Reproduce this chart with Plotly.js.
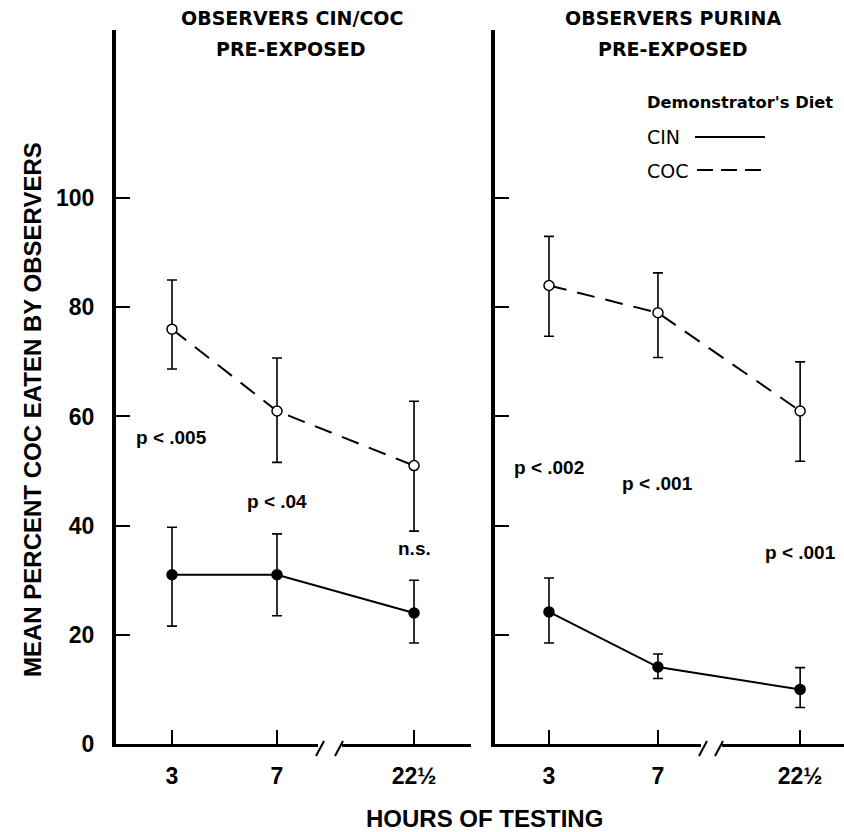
<!DOCTYPE html>
<html>
<head>
<meta charset="utf-8">
<script src="https://cdn.plot.ly/plotly-3.0.1.min.js"></script>
<style>html,body{margin:0;padding:0;background:#fff;}#chart{width:844px;height:832px;}</style>
</head>
<body>
<div id="chart"></div>
<script>
// ---------- DATA ----------
const hours = [3, 7, 22.5];
const tickLabels = ['3', '7', '22½'];

const leftCOC = [76, 61, 51];
const leftCOCErrUp = [9, 9.7, 11.8];
const leftCOCErrDown = [7.3, 9.4, 12];
const leftCIN = [31, 31, 24];
const leftCINErrUp = [8.7, 7.5, 6];
const leftCINErrDown = [9.4, 7.5, 5.5];

const rightCOC = [84, 79, 61];
const rightCOCErrUp = [9, 7.3, 9];
const rightCOCErrDown = [9.3, 8.2, 9.2];
const rightCIN = [24.2, 14.1, 10];
const rightCINErrUp = [6.2, 2.4, 4];
const rightCINErrDown = [5.7, 2.1, 3.3];

const yTicks = [0, 20, 40, 60, 80, 100];
const leftPLabels = ['p < .005', 'p < .04', 'n.s.'];
const rightPLabels = ['p < .002', 'p < .001', 'p < .001'];

// ---------- LAYOUT HELPERS ----------
const W = 844, H = 832;
const fx = p => p / W;
const fy = p => 1 - p / H;
// broken time axis: hours past the break are compressed
const BREAK = 9, COMPRESS = 0.2385;
const bx = h => h <= BREAK ? h : BREAK + (h - BREAK) * COMPRESS;
const xPos = hours.map(bx);

const FONT = 'Liberation Sans, Arial, Helvetica, sans-serif';
const TFONT = 'DejaVu Sans, Liberation Sans, sans-serif';
const leftPY = [56.2, 44.5, 35.9];
const rightPY = [50.7, 47.8, 35.0];

function series(y, up, down, open, xa, ya) {
  return {
    x: xPos, y: y, xaxis: xa, yaxis: ya, type: 'scatter', mode: 'lines+markers',
    line: {color: '#000', width: 2, dash: open ? '18px,11px' : 'solid'},
    marker: {size: 10, color: open ? '#fff' : '#000', line: {color: '#000', width: 1.5}},
    error_y: {type: 'data', symmetric: false, array: up, arrayminus: down, color: '#000', thickness: 1.6, width: 5},
    showlegend: false, hoverinfo: 'skip', cliponaxis: false
  };
}

const traces = [
  series(leftCIN, leftCINErrUp, leftCINErrDown, false, 'x', 'y'),
  series(leftCOC, leftCOCErrUp, leftCOCErrDown, true, 'x', 'y'),
  series(rightCIN, rightCINErrUp, rightCINErrDown, false, 'x2', 'y2'),
  series(rightCOC, rightCOCErrUp, rightCOCErrDown, true, 'x2', 'y2')
];

const xCommon = {
  tickmode: 'array', tickvals: xPos, ticktext: tickLabels,
  ticks: 'inside', ticklen: 14, tickwidth: 2, tickcolor: '#000',
  showline: true, linewidth: 3, linecolor: '#000', showgrid: false, zeroline: false,
  tickfont: {family: FONT, size: 23, color: '#000', weight: 'bold'}, ticklabelstandoff: 9,
  fixedrange: true
};
const yCommon = {
  range: [0, 130.8], tickmode: 'array', tickvals: yTicks,
  ticks: 'inside', ticklen: 14, tickwidth: 2, tickcolor: '#000',
  showline: true, linewidth: 4, linecolor: '#000', showgrid: false, zeroline: false,
  tickfont: {family: FONT, size: 23, color: '#000', weight: 'bold'}, ticklabelstandoff: 13,
  domain: [fy(744), fy(30)], fixedrange: true
};

const ann = [];
function txt(text, xp, yp, size, bold, extra, fam) {
  ann.push(Object.assign({text: text, xref: 'paper', yref: 'paper', x: fx(xp), y: fy(yp),
    xanchor: 'center', yanchor: 'middle', showarrow: false,
    font: {family: fam || FONT, size: size, color: '#000', weight: bold ? 'bold' : 'normal'}}, extra || {}));
}
txt('OBSERVERS CIN/COC', 292, 18, 19, true, null, TFONT);
txt('PRE-EXPOSED', 291, 49, 19, true, null, TFONT);
txt('OBSERVERS PURINA', 673, 18, 19, true, null, TFONT);
txt('PRE-EXPOSED', 673, 49, 19, true, null, TFONT);
txt("Demonstrator's Diet", 645, 103, 16.3, true, {xanchor: 'left'}, TFONT);
txt('CIN', 645, 137, 19, false, {xanchor: 'left'}, TFONT);
txt('COC', 645, 171, 19, false, {xanchor: 'left'}, TFONT);
txt('MEAN PERCENT COC EATEN BY OBSERVERS', 32, 410, 24, true, {textangle: -90});
txt('HOURS OF TESTING', 484, 818, 24, true);

leftPLabels.forEach((t, i) => ann.push({text: t, xref: 'x', yref: 'y', x: xPos[i], y: leftPY[i],
  showarrow: false, font: {family: FONT, size: 19, color: '#000', weight: 'bold'}}));
rightPLabels.forEach((t, i) => ann.push({text: t, xref: 'x2', yref: 'y2', x: xPos[i], y: rightPY[i],
  showarrow: false, font: {family: FONT, size: 19, color: '#000', weight: 'bold'}}));

const shapes = [];
// legend samples
shapes.push({type: 'line', xref: 'paper', yref: 'paper', x0: fx(695), x1: fx(765), y0: fy(137), y1: fy(137), line: {color: '#000', width: 2}});
shapes.push({type: 'line', xref: 'paper', yref: 'paper', x0: fx(697), x1: fx(765), y0: fy(170), y1: fy(170), line: {color: '#000', width: 2, dash: '16px,8px'}});
// axis breaks
[[318, 342, 320, 339], [701, 722, 703, 719]].forEach(b => {
  shapes.push({type: 'rect', xref: 'paper', yref: 'paper', x0: fx(b[0]), x1: fx(b[1]), y0: fy(748), y1: fy(739), fillcolor: '#fff', line: {width: 0}, layer: 'above'});
  [b[2], b[3]].forEach(s => shapes.push({type: 'line', xref: 'paper', yref: 'paper',
    x0: fx(s + 4), y0: fy(741), x1: fx(s - 4), y1: fy(756), line: {color: '#000', width: 2}, layer: 'above'}));
});

const layout = {
  width: W, height: H, margin: {l: 0, r: 0, t: 0, b: 0},
  paper_bgcolor: '#fff', plot_bgcolor: 'rgba(0,0,0,0)', showlegend: false,
  xaxis: Object.assign({}, xCommon, {domain: [fx(116), fx(471)], range: [0.867, 14.39], anchor: 'y'}),
  xaxis2: Object.assign({}, xCommon, {domain: [fx(495), 1], range: [1.018, 13.83], anchor: 'y2'}),
  yaxis: Object.assign({}, yCommon, {anchor: 'x'}),
  yaxis2: Object.assign({}, yCommon, {anchor: 'x2', showticklabels: false}),
  annotations: ann, shapes: shapes
};

Plotly.newPlot('chart', traces, layout, {staticPlot: true, displayModeBar: false});
</script>
</body>
</html>
